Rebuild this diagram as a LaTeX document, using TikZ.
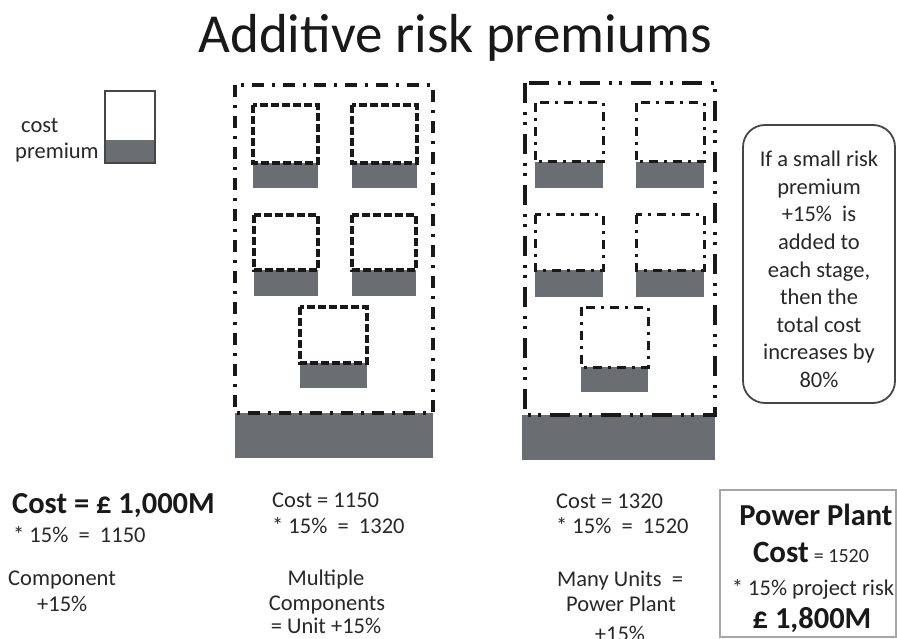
\documentclass[tikz,border=0pt]{standalone}
\usepackage{fontspec}
\setmainfont{Carlito}
\definecolor{pgray}{RGB}{106,109,113}
\definecolor{ink}{RGB}{25,25,25}
\definecolor{txt}{RGB}{40,40,40}
\definecolor{frame}{RGB}{70,70,70}
\tikzset{
  body/.style={font=\fontsize{22.5}{27.5}\selectfont, text=txt, inner sep=0pt},
  big/.style={font=\bfseries\fontsize{30.5}{36}\selectfont, text=ink, inner sep=0pt},
  prem/.style={fill=pgray, draw=none},
  outerdd/.style={draw=ink, line width=3.2pt, dash pattern=on 12pt off 8pt on 3pt off 8pt},
  outerddd/.style={draw=ink, line width=3.2pt, dash pattern=on 20pt off 9pt on 3pt off 7pt on 3pt off 9pt},
  innerdash/.style={draw=ink, line width=3.2pt, dash pattern=on 8pt off 3pt},
  innerdd/.style={draw=ink, line width=3pt, dash pattern=on 9pt off 6pt on 3pt off 6pt},
}
% name, x1, x2, top, split, bottom, style
\newcommand\rbox[7]{%
  \fill[prem] (#2,#5) rectangle (#3,#6);
  \draw[#7] (#2,#4) rectangle (#3,#5);
  \coordinate (#1) at (#2,#4);}
\begin{document}
\begin{tikzpicture}[x=1pt,y=-1pt]
\useasboundingbox (0,0) rectangle (897,639);
\fill[white] (0,0) rectangle (897,639);

% title
\node[font=\fontsize{55}{60}\selectfont, text=ink, anchor=base, inner sep=0pt] (title) at (455,53) {Additive risk premiums};

% legend
\fill[prem] (105,140) rectangle (155,163);
\draw[frame, line width=1.8pt] (105,91) rectangle (155,163);
\node[body, anchor=base west] (lcost) at (21,133) {cost};
\node[body, anchor=base west] (lprem) at (15,159) {premium};

% left panel
\fill[prem] (235,413) rectangle (433,458);
\draw[outerdd] (235,85) rectangle (433,413);
\rbox{L1}{253}{318}{105}{163}{188}{innerdash}
\rbox{L2}{352}{417}{105}{163}{188}{innerdash}
\rbox{L3}{254}{318}{215}{270}{296}{innerdash}
\rbox{L4}{352}{416}{215}{270}{296}{innerdash}
\rbox{L5}{300}{367}{307}{363}{388}{innerdash}

% right panel
\fill[prem] (522,415) rectangle (715,460);
\draw[outerddd] (525,83) rectangle (715,415);
\rbox{R1}{535}{603}{103}{162}{188}{innerdd}
\rbox{R2}{636}{704}{103}{162}{188}{innerdd}
\rbox{R3}{535}{603}{215}{270}{297}{innerdd}
\rbox{R4}{636}{704}{215}{270}{297}{innerdd}
\rbox{R5}{581}{648}{307}{367}{392}{innerdd}

% rounded note
\draw[frame, line width=1.8pt, rounded corners=22pt] (743,125) rectangle (895,403);
\foreach \t [count=\i from 0] in {If a small risk, premium, +15\%\ \ is, added to, {each stage,}, then the, total cost, increases by, 80\%}{
  \node[body, anchor=base] (note\i) at (819,167+27.5*\i) {\t};
}

% bottom left
\node[big, anchor=base west] (c1) at (12,513) {Cost = £ 1,000M};
\node[body, anchor=base west] (c1b) at (13,542) {* 15\%\ \ =\ \ 1150};
\node[body, anchor=base west] (c1c) at (8,585) {Component};
\node[body, anchor=base west] (c1d) at (37,611) {+15\%};

% bottom middle
\node[body, anchor=base west] (c2) at (272,507) {Cost = 1150};
\node[body, anchor=base west] (c2b) at (272,533) {* 15\%\ \ =\ \ 1320};
\node[body, anchor=base] (c2c) at (326,585) {Multiple};
\node[body, anchor=base] (c2d) at (327,610) {Components};
\node[body, anchor=base] (c2e) at (326,633) {= Unit +15\%};

% bottom right
\node[body, anchor=base west] (c3) at (556,508) {Cost = 1320};
\node[body, anchor=base west] (c3b) at (556,533) {* 15\%\ \ =\ \ 1520};
\node[body, anchor=base west] (c3c) at (557,586) {Many Units\ \ =};
\node[body, anchor=base] (c3d) at (621,611) {Power Plant};
\node[body, anchor=base] (c3e) at (620,641) {+15\%};

% power plant box
\draw[draw=gray!70, line width=1.2pt] (720,490) rectangle (896,637);
\node[big, anchor=base] (pp1) at (816,525) {Power Plant};
\node[body, anchor=base] (pp2) at (811,562) {{\bfseries\color{ink}\fontsize{31}{36}\selectfont Cost} {\fontsize{20}{24}\selectfont = 1520}};
\node[body, anchor=base] (pp3) at (813,595) {* 15\% project risk};
\node[big, anchor=base] (pp4) at (812,628) {£ 1,800M};
\end{tikzpicture}
\end{document}
